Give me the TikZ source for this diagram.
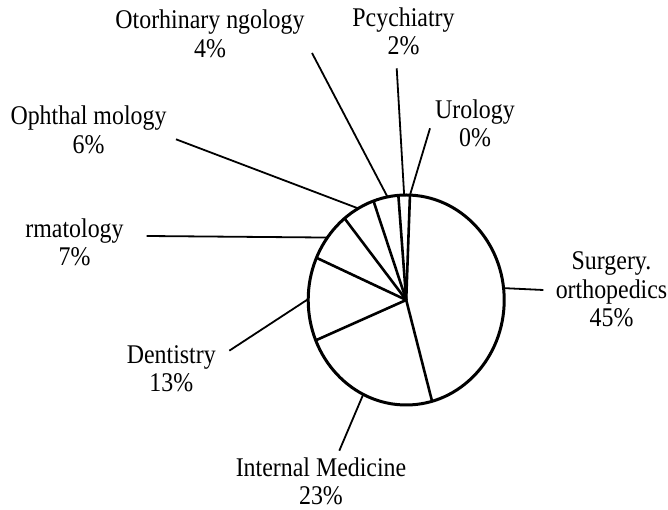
\documentclass[tikz,border=0pt]{standalone}
\usepackage{fontspec}
\setmainfont{Liberation Serif}[FakeStretch=0.885]
\usetikzlibrary{calc}
\begin{document}
\begin{tikzpicture}[x=1pt,y=1pt,
  lab/.style={font=\fontsize{27}{28.5}\selectfont, align=center, anchor=base, inner sep=0pt},
  rim/.style={line width=3pt},
  spoke/.style={line width=2.6pt, line cap=round},
  leader/.style={line width=1.8pt}]
\useasboundingbox (0,0) rectangle (668,510);
% pie centre
\coordinate (C) at (406.2,210);
% slice boundaries on the rim
\foreach \n/\a in {s1/285.3, s2/87.8, s3/94.6, s4/109.5, s5/129, s6/156.3, s7/202.6}
  \coordinate (\n) at ($(C)+(\a:98 and 105)$);
% leader anchors on the rim
\foreach \n/\a in {esur/6.5, euro/87.8, epsy/91.2, eoto/101, eoph/119.3, eder/143.5, eden/179.5, eim/244}
  \coordinate (\n) at ($(C)+(\a:98 and 105)$);
% free ends of the leaders
\coordinate (fsur) at (543.3,220);
\coordinate (furo) at (430,381.7);
\coordinate (fpsy) at (396.7,441.7);
\coordinate (foto) at (312,457);
\coordinate (foph) at (176,370.7);
\coordinate (fder) at (146.7,274);
\coordinate (fden) at (229.3,159.3);
\coordinate (fim) at (339.3,59.3);
% spokes
\foreach \n in {s1,s2,s3,s4,s5,s6,s7}
  \draw[spoke] (C) -- (\n);
% rim
\draw[rim] (C) ellipse [x radius=98, y radius=105];
% leaders
\foreach \e/\f in {esur/fsur, euro/furo, epsy/fpsy, eoto/foto, eoph/foph, eder/fder, eden/fden, eim/fim}
  \draw[leader] (\e) -- (\f);
% labels (anchored at the baseline of their last line)
\node[lab] (oto) at (210,452.7) {Otorhinary ngology\\4\%};
\node[lab] (psy) at (403.5,455) {Pcychiatry\\2\%};
\node[lab] (uro) at (475,363.3) {Urology\\0\%};
\node[lab] (oph) at (88.5,356.7) {Ophthal mology\\6\%};
\node[lab] (der) at (74.5,244) {rmatology\\7\%};
\node[lab] (sur) at (611.5,183) {Surgery.\\orthopedics\\45\%};
\node[lab] (den) at (171.3,118.3) {Dentistry\\13\%};
\node[lab] (im) at (321,5) {Internal Medicine\\23\%};
\end{tikzpicture}
\end{document}
